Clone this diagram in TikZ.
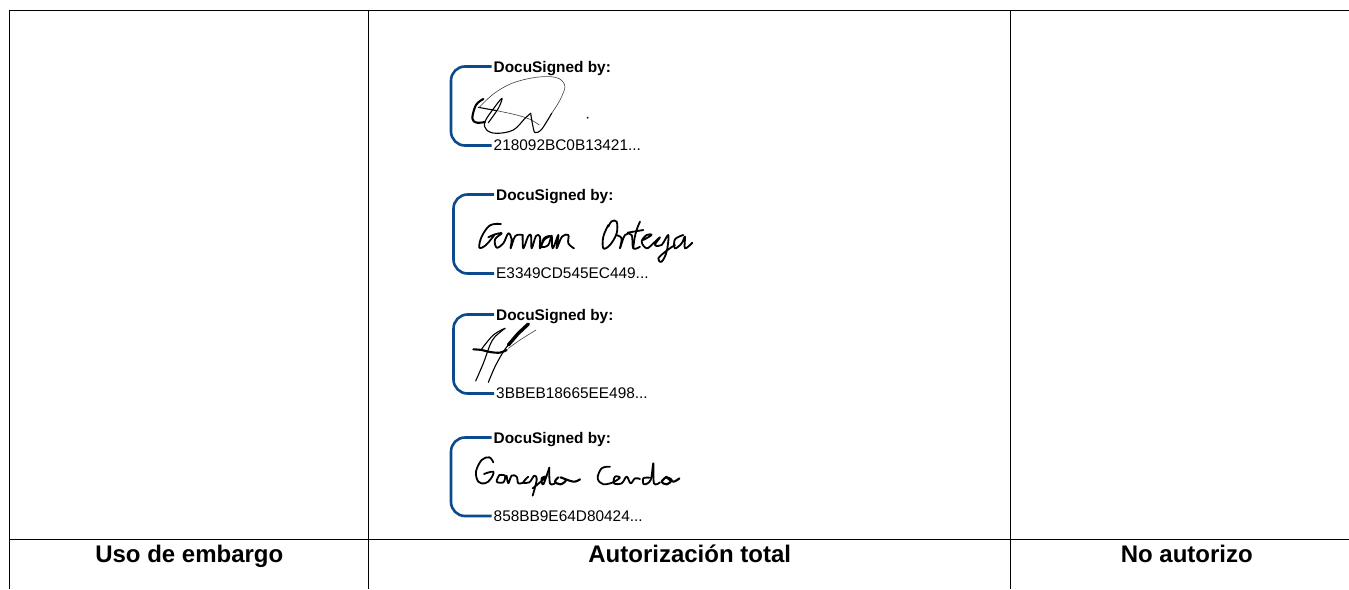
\documentclass[tikz,border=0pt]{standalone}
\usepackage{fontspec}
\setmainfont{Liberation Sans}
\definecolor{dsblue}{HTML}{0B4A8C}
\tikzset{
  grid line/.style={draw=black,line width=0.8pt},
  bracket/.style={draw=dsblue,line width=2.6pt,rounded corners=14pt},
  dshead/.style={font=\fontsize{15.4}{17}\selectfont\bfseries,anchor=west,inner xsep=2pt,inner ysep=0pt,text=black,text height=14.2pt,text depth=3.2pt},
  dsid/.style={font=\fontsize{15.4}{17}\selectfont,anchor=west,inner xsep=2pt,inner ysep=0pt,text=black},
  foot/.style={font=\fontsize{24}{26}\selectfont\bfseries,anchor=base,inner sep=0pt,text=black},
  sigthin/.style={draw=black!75,line width=0.6pt,line cap=round,line join=round},
  sig/.style={draw=black,line width=1.1pt,line cap=round,line join=round},
  signame/.style={draw=black,line width=1.8pt,line cap=round,line join=round},
  sigbold/.style={draw=black,line width=2.1pt,line cap=round,line join=round},
  sigheavy/.style={draw=black,line width=3.4pt,line cap=round,line join=round},
  zoomed/.style={x=0.3333pt,y=-0.3333pt},
}
\begin{document}
\begin{tikzpicture}[x=1pt,y=-1pt]
\useasboundingbox[fill=white] (0,0) rectangle (1349,589);
% table
\draw[grid line] (9.5,589) -- (9.5,10.5) -- (1349,10.5);
\draw[grid line] (9.5,539.5) -- (1349,539.5);
\draw[grid line] (368.5,10.5) -- (368.5,589);
\draw[grid line] (1010.5,10.5) -- (1010.5,589);
\node[foot] at (189.3,562) {Uso de embargo};
\node[foot] at (689.7,562) {Autorización total};
\node[foot] at (1186.8,562) {No autorizo};
% stamp 1
\node[dshead] (a1) at (491.5,66.5) {DocuSigned by:};
\node[dsid] (b1) at (491.5,145.5) {218092BC0B13421...};
\coordinate (c1) at (451,100);
\draw[bracket] (a1.west) -- (a1.west -| c1) -- (b1.west -| c1) -- (b1.west);
% stamp 2
\node[dshead] (a2) at (494,194.5) {DocuSigned by:};
\node[dsid] (b2) at (494,273.5) {E3349CD545EC449...};
\coordinate (c2) at (453.5,230);
\draw[bracket] (a2.west) -- (a2.west -| c2) -- (b2.west -| c2) -- (b2.west);
% stamp 3
\node[dshead] (a3) at (494,314.5) {DocuSigned by:};
\node[dsid] (b3) at (494,393.5) {3BBEB18665EE498...};
\coordinate (c3) at (453.5,350);
\draw[bracket] (a3.west) -- (a3.west -| c3) -- (b3.west -| c3) -- (b3.west);
% stamp 4
\node[dshead] (a4) at (491.5,437.5) {DocuSigned by:};
\node[dsid] (b4) at (491.5,516) {858BB9E64D80424...};
\coordinate (c4) at (451,470);
\draw[bracket] (a4.west) -- (a4.west -| c4) -- (b4.west -| c4) -- (b4.west);
% signature 1
\begin{scope}[shift={(440,50)},zoomed]
\draw[sigbold] plot[smooth,tension=0.6] coordinates {(130,147) (108,165) (97,205) (110,218) (135,216)};
\draw[sig] (115,172) -- (170,182);
\draw[sigthin] plot[smooth,tension=0.5] coordinates {(170,182) (230,195) (270,208) (298,225)};
\draw[sigthin] plot[smooth,tension=0.7] coordinates {(118,172) (170,125) (240,92) (330,80) (372,100) (365,140) (335,190)};
\draw[sig] plot[smooth,tension=0.5] coordinates {(335,190) (305,238) (285,248) (278,225) (272,190)};
\draw[sig] plot[smooth,tension=0.6] coordinates {(272,190) (255,205) (220,240) (170,250) (140,240) (135,215) (165,170) (186,145) (175,175) (145,218)};
\fill[black] (443,203) circle[radius=3];
\end{scope}
% signature 2
\begin{scope}[shift={(440,180)},zoomed]
\draw[signame] plot[smooth,tension=0.6] coordinates {(183,132) (150,136) (125,170) (118,203) (138,195) (163,165)};
\draw[signame] plot[smooth,tension=0.6] coordinates {(145,172) (165,163) (185,160) (165,178) (170,203) (190,190) (205,160) (215,178) (212,205) (226,168) (248,165)};
\draw[signame] plot[smooth,tension=0.6] coordinates {(248,165) (250,205) (264,170) (273,166) (275,205) (288,168) (300,170) (300,205) (312,180) (330,168) (312,175) (305,200) (325,195) (335,167) (338,205) (355,165) (350,205) (366,170) (385,165) (385,190) (402,205)};
\draw[signame] plot[smooth,tension=0.6] coordinates {(505,135) (490,170) (490,205) (510,195) (530,160) (530,125) (515,124) (505,140)};
\draw[signame] plot[smooth,tension=0.6] coordinates {(528,165) (545,175) (540,205) (555,165) (575,165) (580,205) (600,200)};
\draw[signame] (600,125) .. controls (588,150) and (582,175) .. (580,205);
\draw[signame] (563,158) -- (610,150);
\draw[signame] plot[smooth,tension=0.6] coordinates {(610,180) (635,165) (620,165) (605,185) (620,205) (640,190) (660,172) (645,195) (665,195) (685,165) (680,215) (665,245) (655,235) (680,212) (705,195)};
\draw[signame] plot[smooth,tension=0.6] coordinates {(730,165) (705,178) (705,205) (725,190) (735,170) (735,205) (757,188)};
\end{scope}
% signature 3
\begin{scope}[shift={(440,300)},zoomed]
\draw[sigbold] plot[smooth,tension=0.6] coordinates {(100,148) (125,150) (150,156) (180,158) (200,150)};
\draw[sigheavy] (265,72) -- (235,100) -- (205,135);
\draw[sig] plot[smooth,tension=0.5] coordinates {(205,135) (190,155) (165,200) (145,247)};
\draw[sig] plot[smooth,tension=0.6] coordinates {(195,85) (160,105) (125,147)};
\draw[sig] plot[smooth,tension=0.5] coordinates {(195,85) (165,110) (150,135) (130,190) (107,243)};
\draw[sigthin] plot[smooth,tension=0.5] coordinates {(288,90) (240,120) (205,145)};
\end{scope}
% signature 4
\begin{scope}[shift={(440,425)},zoomed]
\draw[signame] plot[smooth,tension=0.6] coordinates {(160,112) (148,97) (125,105) (108,140) (115,170) (135,175) (152,162) (160,140) (132,147)};
\draw[signame] plot[smooth,tension=0.6] coordinates {(178,150) (170,170) (190,172) (195,152) (178,150)};
\draw[signame] plot[smooth,tension=0.6] coordinates {(200,152) (205,175) (215,152) (230,155) (235,175) (252,172)};
\draw[signame] plot[smooth,tension=0.6] coordinates {(265,155) (250,172) (268,172) (283,152) (290,165) (278,212)};
\draw[signame] plot[smooth,tension=0.6] coordinates {(278,190) (300,172) (318,155) (305,160) (310,178) (328,128)};
\draw[signame] plot[smooth,tension=0.6] coordinates {(328,128) (330,175) (345,175)};
\draw[sigbold] plot[smooth,tension=0.6] coordinates {(355,157) (345,170) (362,178) (378,165) (362,157) (400,170) (420,163)};
\draw[signame] plot[smooth,tension=0.6] coordinates {(510,125) (485,130) (473,160) (490,178) (520,172)};
\draw[signame] plot[smooth,tension=0.6] coordinates {(520,172) (540,158) (525,155) (522,175) (545,175) (560,155) (572,175) (585,160) (600,162)};
\draw[signame] plot[smooth,tension=0.6] coordinates {(628,158) (610,160) (612,178) (632,165) (640,115) (642,175) (660,172)};
\draw[sigbold] plot[smooth,tension=0.6] coordinates {(680,155) (665,170) (680,178) (695,165) (680,157) (700,170) (718,160)};
\end{scope}
\end{tikzpicture}
\end{document}
